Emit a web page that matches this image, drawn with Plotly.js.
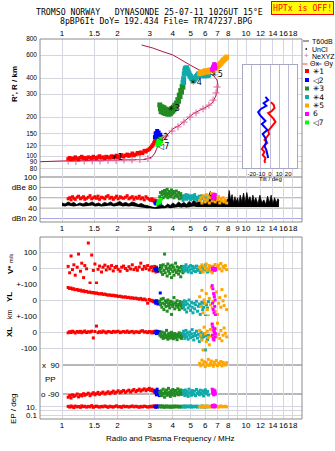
<!DOCTYPE html>
<html><head><meta charset="utf-8">
<script src="https://cdn.plot.ly/plotly-3.0.1.min.js"></script>
<style>html,body{margin:0;padding:0;background:#fff;}#chart{width:335px;height:451px;}</style>
</head><body><div id="chart"></div>
<script>
// ---------------- DATA ----------------
const topTickVals = [1,1.5,2,3,4,5,6,7,8,9,10,12,14,16,18];
const topTickText = ['1','1.5','2','3','4','5','6','7','8','','10','12','14','16','18'];
const midTickText = ['1','1.5','2','3','4','5','6','7','8','9','10','12','14','16','18'];
const rTickVals = [80,90,100,120,150,200,300,400,600,800];
const rTickText = ['80','90','100','120','150','200','300','400','600','800'];
const dbTickVals = [100,80,60,40,20];
const dbTickText = ['100','dBe 80','60','40','dBn 20'];

// group 1 (red)
const freqG1 = [1.08,1.10,1.12,1.14,1.16,1.18,1.21,1.23,1.26,1.28,1.31,1.33,1.36,1.39,1.42,1.45,1.48,1.51,1.54,1.57,1.60,1.64,1.67,1.71,1.74,1.78,1.82,1.86,1.90,1.94,1.98,2.02,2.07,2.11,2.16,2.21,2.26,2.31,2.36,2.41,2.46,2.52,2.57,2.63,2.68,2.74,2.80,2.86,2.92,2.98,3.03,3.08,3.12,3.16,3.19,3.22,3.24,3.26,3.28,3.30];
const rangeG1 = [95,97,94,96,95,98,96,94,97,99,96,97,95,98,97,96,99,97,96,98,100,97,98,96,99,98,97,100,98,99,101,98,100,102,99,101,103,100,102,105,101,103,106,104,107,105,110,108,111,113,116,119,122,126,130,134,139,144,138,148];
const ampG1 = [58,60,56,62,59,57,61,63,58,60,62,57,59,61,64,58,60,62,59,63,57,61,60,58,62,64,59,61,57,60,63,58,62,60,59,61,64,58,60,62,57,61,59,63,58,60,56,62,59,57,55,58,54,56,52,55,53,50,54,52];
const vstarG1 = [10,-30,75,-10,20,-45,5,87,-20,30,-60,15,-5,156,-94,81,-15,25,-94,-8,12,-25,5,18,-12,8,-5,15,-18,3,10,-8,-20,5,12,-3,-15,8,-6,20,-10,2,-14,6,30,-8,10,-4,15,-12,3,8,-18,-5,10,-3,-25,5,-10,-20];
const ylG1 = [78,72,75,68,70,64,66,60,62,55,58,52,54,48,50,45,47,42,44,40,38,40,35,37,33,30,32,28,30,25,27,22,24,20,18,20,15,17,12,14,10,12,8,5,10,2,6,0,-20,3,-5,-2,-8,-12,-6,-15,-10,-18,-8,-14];
const xlG1 = [-5,2,-3,5,0,-6,3,-2,4,-4,1,6,-3,2,-1,5,-37,3,37,-4,2,-2,6,0,-5,3,1,-3,4,-1,2,5,-4,0,3,-2,6,-3,1,4,-5,2,0,-3,5,8,-1,2,-4,3,0,-6,2,-3,4,-2,5,-5,0,-4];
const ppG1 = [-110,-100,-115,-95,-105,-100,-90,-108,-95,-102,-88,-98,-92,-85,-100,-90,-82,-95,-88,-80,-92,-85,-78,-90,-84,-76,-88,-80,-72,-85,-78,-70,-82,-75,-68,-80,-72,-66,-78,-70,-62,-75,-68,-60,-72,-65,-58,-70,-62,-55,-68,-60,-72,-66,-80,-75,-85,-78,-90,-82];
const epG1 = [12,8,15,10,6,14,9,11,7,16,10,13,8,12,9,18,7,11,14,10,8,12,9,15,11,7,13,10,8,12,16,9,11,7,14,10,12,8,11,15,9,13,10,7,12,9,14,11,8,10,13,9,12,16,10,8,11,14,9,12];

// group 2 (blue)
const freqG2 = [3.20,3.23,3.26,3.29,3.32,3.35,3.38,3.42];
const rangeG2 = [140,150,145,156,148,152,142,146];
const ampG2 = [50,48,52,49,51,47,50,48];
const vstarG2 = [-5,-15,0,-10,-20,-8,-12,-2];
const ylG2 = [-10,-20,-5,-15,-25,-8,-12,44];
const xlG2 = [-5,0,-10,5,-8,-3,2,-6];
const ppG2 = [-70,-80,-95,-60,-85,-75,-100,-90];
const epG2 = [12,8,15,10,9,14,11,13];

// group 3 (dark green)
const freqG3 = [3.40,3.43,3.46,3.49,3.52,3.55,3.58,3.61,3.64,3.67,3.70,3.73,3.76,3.79,3.82,3.85,3.88,3.91,3.94,3.97,4.00,4.03,4.06,4.10,4.14,4.18,4.22,4.26,4.30,4.34,4.38,4.42,4.46,4.50,4.54,4.58];
const rangeG3 = [248,232,220,240,226,216,236,222,213,230,218,211,226,214,210,222,213,228,218,232,222,238,228,246,238,256,250,272,265,295,288,320,312,345,340,372];
const ampG3 = [62,70,58,66,72,60,68,74,63,70,65,76,60,68,72,64,70,62,75,66,68,72,60,70,64,73,66,62,70,58,65,68,60,63,58,62];
const vstarG3 = [-10,15,-25,5,-40,20,-15,87,-30,10,-5,-50,25,-20,0,-35,12,-8,-60,18,-22,5,-45,-12,30,-28,8,-15,-38,2,-20,-55,10,-8,-30,-18];
const ylG3 = [-10,-30,5,-45,-20,10,-60,-25,-5,-40,-15,-70,0,-35,-20,-50,-8,-30,-90,-12,-40,-25,15,-55,-18,-35,-5,-45,-28,-60,-10,-38,-22,-50,-15,-30];
const xlG3 = [-20,-10,-30,0,-25,-40,-15,-5,-35,-20,10,-30,-45,-12,-25,-8,-38,-20,-2,-30,-15,-42,-25,-10,-35,-20,-48,-15,-28,-5,-33,-22,-40,-12,-25,-18];
const ppG3 = [-80,-95,-70,-100,-85,-60,-90,-110,-75,-88,-65,-98,-82,-55,-92,-78,-105,-70,-85,-95,-62,-88,-75,-100,-68,-90,-80,-58,-95,-72,-85,-65,-92,-78,-70,-88];
const epG3 = [10,14,8,12,16,9,11,7,13,10,15,9,12,8,11,14,10,7,12,9,13,11,8,15,10,12,9,14,11,8,10,13,9,12,11,10];

// group 4 (teal)
const freqG4 = [4.55,4.58,4.62,4.65,4.68,4.72,4.76,4.80,4.85,4.90,4.95,5.00,5.05,5.10,5.15,5.20,5.26,5.32,5.38,5.45,5.52,5.58,5.64,5.70,5.76,5.82,5.88,5.95,6.02,6.10,6.18,6.25];
const rangeG4 = [370,395,430,455,475,468,480,462,446,432,420,410,400,394,388,384,392,400,410,420,430,425,418,425,432,428,420,415,420,425,418,422];
const ampG4 = [55,60,64,58,62,66,57,61,65,59,63,56,60,64,58,62,66,57,61,55,59,63,57,60,64,58,62,56,60,54,58,62];
const vstarG4 = [-5,10,-20,5,-15,20,-10,0,-25,8,-12,15,-30,-5,10,-18,2,-22,12,-8,-15,5,-28,-3,8,-20,0,-12,18,-6,-25,-10];
const ylG4 = [-20,-40,-5,-60,-30,-10,-75,-25,-50,0,-35,-65,-15,-45,-80,-20,-55,-30,-8,-70,-40,-25,-90,-35,-15,-60,-45,-20,-100,-30,-50,-10];
const xlG4 = [-10,5,-25,-40,-15,10,-30,-5,-45,-20,0,-35,-12,15,-28,-50,-8,-22,5,-38,-15,-60,-25,-2,-42,-18,-30,-10,-112,-25,-48,-20];
const ppG4 = [-70,-90,-80,-100,-65,-85,-95,-75,-105,-60,-88,-78,-98,-68,-82,-92,-72,-100,-62,-86,-76,-95,-66,-84,-90,-70,-102,-80,-64,-88,-74,-96];
const epG4 = [9,12,15,10,8,13,11,14,9,12,10,16,8,11,13,9,12,10,14,8,11,13,10,9,12,15,10,8,11,13,9,12];

// group 5 (orange)
const freqG5 = [5.60,5.68,5.76,5.84,5.92,6.00,6.08,6.16,6.24,6.32,6.40,6.48,6.56,6.64,6.72,6.80,6.90,7.00,7.10,7.20,7.30,7.40,7.50,7.60,7.72,7.85];
const rangeG5 = [432,440,446,438,448,455,450,444,452,460,455,462,458,466,470,478,485,492,500,510,520,532,545,555,565,580];
const ampG5 = [55,60,50,64,58,52,66,56,62,50,60,68,54,58,64,52,60,56,62,50,58,54,60,52,56,50];
const vstarG5 = [5,-10,20,-25,10,-5,25,-15,0,15,-20,8,-30,12,-8,22,-12,5,18,-5,28,-18,10,0,15,-10];
const ylG5 = [20,-40,60,-80,0,-20,40,-60,-100,10,-30,80,-50,-10,30,-70,50,-90,-20,15,-45,65,-5,-35,25,-60];
const xlG5 = [10,-20,-50,-112,30,-10,-60,5,-35,-80,15,-25,40,-45,-5,20,-30,55,-15,-40,10,-55,-20,25,-8,-30];
const ppG5 = [100,85,120,95,110,80,105,90,125,88,100,115,92,82,108,96,118,86,102,94,112,84,106,98,90,104];
const epG5 = [11,9,14,8,12,10,15,9,11,13,8,12,10,14,9,11,13,10,8,12,15,9,11,10,13,9];

// group 6 (magenta)
const freqG6 = [6.55,6.58,6.61,6.64,6.67,6.70,6.73,6.76,6.79,6.82];
const rangeG6 = [462,470,478,486,494,502,512,505,490,475];
const ampG6 = [58,62,65,60,64,67,61,63,59,66];
const vstarG6 = [-5,-10,0,-8,-12,-3,-6,-15,-2,-9];
const ylG6 = [90,-20,70,-60,40,-80,20,-40,0,-95];
const xlG6 = [50,-20,30,-40,10,-50,0,20,-30,-10];
const ppG6 = [-60,-75,-85,-70,-95,-65,-80,-90,-72,-88];
const epG6 = [14,20,10,16,12,25,9,18,11,15];

// group 7 (lime)
const freqG7 = [3.30,3.33,3.36,3.39,3.42,3.45];
const rangeG7 = [122,128,132,126,136,130];
const ampG7 = [48,52,55,50,53,57];

// plasma-frequency profile (true height) and NeXYZ points
const profileFreq = [0.46,0.59,0.76,1.00,1.42,2.07,2.83,3.08,3.20,3.28,3.41,3.72,4.01,4.38,4.72,5.15,5.62,6.22,6.62,6.96,7.04,6.96,6.62,5.84,4.96,4.38,4.01,3.54,3.12,2.71];
const profileHeight = [88.4,89.9,90.4,91.6,92.4,93.2,94.0,98.3,105.5,115,133,145,162,174,190,211,226,243,261,307,353,386,422,445,504,561,602,638,681,719];
const nexyzFreq = [1.08,1.19,1.32,1.46,1.61,1.78,1.97,2.17,2.40,2.65,2.93,3.41,3.67,3.96,4.27,4.60,4.96,5.35,5.84,6.29,6.62,6.87,6.96];
const nexyzHeight = [91.6,90.8,91.6,91.6,91.6,92.4,92.4,93.2,93.2,94.0,95.7,133,143,156,168,183,200,215,231,247,270,307,341];

// noise / unclassified amplitude band
const noiseFreq = [1.00,1.04,1.08,1.12,1.16,1.20,1.25,1.30,1.35,1.40,
 1.46,1.52,1.58,1.64,1.70,1.77,1.84,1.91,1.98,2.06,
 2.14,2.22,2.31,2.40,2.50,2.60,2.70,2.80,2.90,3.00,
 3.10,3.20,3.30,3.40,3.50,3.62,3.75,3.88,4.00,4.15,
 4.30,4.45,4.60,4.75,4.90,5.05,5.20,5.40,5.60,5.80,
 6.00,6.20,6.40,6.55,6.70,6.85,7.00,7.20,7.40,7.60,
 7.80,8.00,8.10,8.25,8.40,8.55,8.70,8.85,9.00,9.15,
 9.30,9.50,9.70,9.90,10.1,10.3,10.5,10.7,10.9,11.1,
 11.3,11.6,11.9,12.2,12.5,12.8,13.1,13.4,13.7,14.0,
 14.3,14.6,14.9,15.1];
const noiseTop = [50,48,52,49,51,47,50,48,51,49,
 52,48,50,47,51,49,52,48,50,53,
 49,51,48,52,50,47,49,46,45,43,
 42,41,42,44,46,43,48,45,50,46,
 52,48,51,47,53,49,55,50,54,49,
 56,60,72,58,68,55,60,52,56,50,
 54,58,74,55,66,50,62,52,60,48,
 65,52,69,50,70,54,62,50,65,52,
 60,48,65,50,56,47,63,50,65,48,
 60,50,58,55];
const noiseLow = [44,43,45,44,43,44,45,43,44,44,
 45,43,44,43,44,44,45,43,44,45,
 43,44,43,44,43,42,42,41,40,40,
 39,39,39,40,40,40,41,40,41,41,
 42,41,42,41,42,42,43,42,42,42,
 42,43,43,42,43,42,42,42,42,42,
 42,42,42,42,42,42,42,42,42,42,
 42,42,42,42,42,42,42,42,42,42,
 42,42,42,42,42,42,42,42,42,42,
 42,42,42,42];

// tilt inset
const tiltXHeight = [272,264,255,246,240,232,223,214,205,197,188,179,170,162,153,144,135,127,118,109,100,95];
const tiltX = [1,4,5,2,-2,1,4,6,3,0,-2,-1,-4,-6,-3,-7,-9,-6,-8,-5,-6,-5];
const tiltYHeight = [287,278,269,261,252,243,234,226,217,208,199,191,179,167,156,144,132,121,109];
const tiltY = [-5,-2,-7,-4,-10,-13,-11,-8,-5,-9,-6,-3,-8,-5,-4,-6,-4,-3,-2];

const groupLabels = ['✳1','◁2','✳3','✳4','✳5','6','◁7'];
const groupColors = ['#ff0000','#0000ff','#228b22','#10aaaa','#ffa500','#ff00ff','#00ff00'];

// ---------------- LAYOUT HELPERS ----------------
const W=335,H=451;
const X=p=>p/W, Y=p=>1-p/H;
const FONT='Liberation Sans, Arial, sans-serif';
const MONO='DejaVu Sans Mono, monospace';
const GRID='#d6d6de', FRAME='#8c8c8c';
const lr=[(40-62)/184,(302-62)/184];
const rRange=[Math.log10(800)-(175-39)/129.6, Math.log10(800)];

const groups = [
 {f:freqG1,r:rangeG1,a:ampG1,v:vstarG1,yl:ylG1,xl:xlG1,pp:ppG1,ep:epG1,s:3.6},
 {f:freqG2,r:rangeG2,a:ampG2,v:vstarG2,yl:ylG2,xl:xlG2,pp:ppG2,ep:epG2,s:4},
 {f:freqG3,r:rangeG3,a:ampG3,v:vstarG3,yl:ylG3,xl:xlG3,pp:ppG3,ep:epG3,s:5},
 {f:freqG4,r:rangeG4,a:ampG4,v:vstarG4,yl:ylG4,xl:xlG4,pp:ppG4,ep:epG4,s:5},
 {f:freqG5,r:rangeG5,a:ampG5,v:vstarG5,yl:ylG5,xl:xlG5,pp:ppG5,ep:epG5,s:5},
 {f:freqG6,r:rangeG6,a:ampG6,v:vstarG6,yl:ylG6,xl:xlG6,pp:ppG6,ep:epG6,s:4},
 {f:freqG7,r:rangeG7,a:ampG7,s:4}
];

const traces=[];
// profile line + NeXYZ markers (ionogram panel)
traces.push({x:profileFreq,y:profileHeight,xaxis:'x',yaxis:'y',mode:'lines',line:{color:'#b0154a',width:1}});
traces.push({x:nexyzFreq,y:nexyzHeight,xaxis:'x',yaxis:'y',mode:'markers',marker:{symbol:'cross-thin',size:5,line:{color:'#e0609a',width:1}}});
// noise band in dB panel
traces.push({x:noiseFreq,y:noiseLow,xaxis:'x2',yaxis:'y2',mode:'lines',line:{width:0,color:'#000'},hoverinfo:'skip'});
traces.push({x:noiseFreq,y:noiseTop,xaxis:'x2',yaxis:'y2',mode:'lines',fill:'tonexty',fillcolor:'#000',line:{width:0.8,color:'#000'},hoverinfo:'skip'});

const mk=(c,s)=>({color:c,size:s,symbol:'square',line:{width:0}});
groups.forEach((g,i)=>{
  const c=groupColors[i];
  traces.push({x:g.f,y:g.r,xaxis:'x',yaxis:'y',mode:'markers',marker:mk(c,g.s)});
  traces.push({x:g.f,y:g.a,xaxis:'x2',yaxis:'y2',mode:'markers',marker:mk(c,3)});
  if(g.v){
    [['y4',g.v],['y5',g.yl],['y6',g.xl],['y7',g.pp],['y8',g.ep]].forEach(([ya,vals])=>{
      traces.push({x:g.f,y:vals,xaxis:'x4',yaxis:ya,mode:'markers',marker:mk(c,3)});
    });
  }
});
// tilt inset
traces.push({x:tiltX,y:tiltXHeight,xaxis:'x5',yaxis:'y9',mode:'lines',line:{color:'#ff0000',width:2}});
traces.push({x:tiltY,y:tiltYHeight,xaxis:'x5',yaxis:'y9',mode:'lines',line:{color:'#0000ff',width:2}});

const tf={family:FONT,size:8,color:'#000'};
const base={zeroline:false,showline:false,ticks:'',tickfont:tf,gridcolor:GRID,gridwidth:1,fixedrange:true,tickmode:'array',tickangle:0};

const layout={
  width:W,height:H,margin:{l:0,r:0,t:0,b:0,pad:0},paper_bgcolor:'#fff',plot_bgcolor:'#fff',showlegend:false,
  xaxis:{...base,domain:[X(40),X(302)],anchor:'y',side:'top',type:'log',range:lr,tickvals:topTickVals,ticktext:topTickText,ticklabelstandoff:0},
  yaxis:{...base,domain:[Y(175),Y(39)],anchor:'x',type:'log',range:rRange,tickvals:rTickVals,ticktext:rTickText,ticklabelstandoff:2,tickfont:{family:FONT,size:6.5,color:'#000'}},
  xaxis2:{...base,domain:[X(40),X(302)],anchor:'y2',side:'bottom',type:'log',range:lr,tickvals:topTickVals,ticktext:midTickText,ticklabelstandoff:0},
  yaxis2:{...base,domain:[Y(222),Y(175)],anchor:'x2',range:[13.3,103.85],tickvals:dbTickVals,ticktext:dbTickText,showgrid:false,ticklabelstandoff:2},
  xaxis4:{...base,domain:[X(40),X(302)],anchor:'y8',side:'bottom',type:'log',range:lr,tickvals:topTickVals,ticktext:topTickText,ticklabelstandoff:0},
  yaxis4:{...base,domain:[Y(284),Y(237)],anchor:'x4',range:[-100,193.75],tickvals:[100,0],ticktext:['100','0'],ticklabelstandoff:2},
  yaxis5:{...base,domain:[Y(316),Y(284)],anchor:'x4',range:[-100,100],tickvals:[100,0],ticktext:['+-100','0'],ticklabelstandoff:2},
  yaxis6:{...base,domain:[Y(356),Y(316)],anchor:'x4',range:[-150,100],tickvals:[100,0,-100],ticktext:['+-100','0','-100'],ticklabelstandoff:2},
  yaxis7:{...base,domain:[Y(400),Y(356)],anchor:'x4',range:[-127.2,145.9],showgrid:false,showticklabels:false},
  yaxis8:{...base,domain:[Y(419),Y(400)],anchor:'x4',type:'log',range:[-1.964,2.614],tickvals:[10,1,0.1],ticktext:['10.','','0.1'],ticklabelstandoff:2},
  xaxis5:{...base,domain:[X(242.7),X(297.3)],anchor:'y9',range:[-30,30],tickvals:[-20,-10,0,10,20],ticktext:['-20','-10','0','10','20'],
          gridcolor:'#bcbcd4',showline:true,mirror:true,linecolor:'#a8a8c4',tickfont:{family:FONT,size:6,color:'#000'},ticklabelstandoff:0},
  yaxis9:{...base,domain:[Y(168),Y(65)],anchor:'x5',range:[80,380],showgrid:false,showticklabels:false,showline:true,mirror:true,linecolor:'#a8a8c4'},
  shapes:[],annotations:[]
};
const S=layout.shapes, A=layout.annotations;
// inset background (occludes main grid)
S.push({type:'rect',xref:'x5',yref:'y9',x0:-30,x1:30,y0:80,y1:380,fillcolor:'#fff',line:{width:0},layer:'below'});
// dB panel lines
[[100,'#7a7a7a'],[80,'#a8a8a8'],[60,'#a8a8a8'],[40,'#a8a8a8'],[20,'#a8a8e8']].forEach(([v,c])=>{
  S.push({type:'line',xref:'paper',yref:'y2',x0:X(40),x1:X(302),y0:v,y1:v,line:{color:c,width:1},layer:'below'});
});
// PP lines
[90,-90].forEach(v=>S.push({type:'line',xref:'paper',yref:'y7',x0:X(63),x1:X(302),y0:v,y1:v,line:{color:'#707070',width:1},layer:'below'}));
// frames
S.push({type:'rect',xref:'paper',yref:'paper',x0:X(40),x1:X(302),y0:Y(222),y1:Y(39),line:{color:FRAME,width:1},fillcolor:'rgba(0,0,0,0)',layer:'above'});
S.push({type:'rect',xref:'paper',yref:'paper',x0:X(40),x1:X(302),y0:Y(419),y1:Y(237),line:{color:FRAME,width:1},fillcolor:'rgba(0,0,0,0)',layer:'above'});

const ann=(o)=>A.push(Object.assign({xref:'paper',yref:'paper',showarrow:false,font:{family:FONT,size:8,color:'#000'}},o));
const lf={family:FONT,size:7,color:'#000'};
// titles
ann({x:X(149),y:Y(12),text:'TROMSO NORWAY   DYNASONDE 25-07-11 1026UT 15°E',font:{family:MONO,size:8.2,color:'#000'},xanchor:'center',yanchor:'middle'});
ann({x:X(156),y:Y(21),text:'8pBP6It DoY= 192.434 File= TR747237.BPG',font:{family:MONO,size:8.2,color:'#000'},xanchor:'center',yanchor:'middle'});
ann({x:X(302),y:Y(8.5),text:'HPTx is OFF!',font:{family:MONO,size:8.2,color:'#ff0000'},bgcolor:'#ffff00',bordercolor:'#ff0000',borderwidth:1,borderpad:1,xanchor:'center',yanchor:'middle'});
// axis titles
ann({x:X(14),y:Y(84),text:"<b>R', R / km</b>",textangle:-90,xanchor:'center',yanchor:'middle'});
ann({x:X(10),y:Y(264),text:'<b>V*</b> <span style="font-size:6px">m/s</span>',textangle:-90,xanchor:'center',yanchor:'middle'});
ann({x:X(9),y:Y(297),text:'<b>YL</b>',textangle:-90,xanchor:'center',yanchor:'middle'});
ann({x:X(9),y:Y(314),text:'km',textangle:-90,xanchor:'center',yanchor:'middle',font:{family:FONT,size:7,color:'#000'}});
ann({x:X(9),y:Y(332),text:'<b>XL</b>',textangle:-90,xanchor:'center',yanchor:'middle'});
ann({x:X(13),y:Y(409),text:'EP / deg',textangle:-90,xanchor:'center',yanchor:'middle'});
ann({x:X(62),y:Y(365),text:'x  90',xanchor:'right',yanchor:'middle'});
ann({x:X(43),y:Y(379),text:'PP',xanchor:'left',yanchor:'middle'});
ann({x:X(62),y:Y(394),text:'o -90',xanchor:'right',yanchor:'middle'});
ann({x:X(170),y:Y(438),text:'Radio and Plasma Frequency / MHz',xanchor:'center',yanchor:'middle'});
ann({x:X(270),y:Y(179),text:'Tilt / deg',xanchor:'center',yanchor:'middle',font:{family:FONT,size:6,color:'#000'}});
// legend
S.push({type:'line',xref:'paper',yref:'paper',x0:X(303),x1:X(309),y0:Y(41),y1:Y(41),line:{color:'#a0a0a0',width:2}});
ann({x:X(309.5),y:Y(41),text:'T60dB',xanchor:'left',yanchor:'middle',font:lf});
S.push({type:'rect',xref:'paper',yref:'paper',x0:X(305.5),x1:X(307),y0:Y(49.8),y1:Y(48.3),fillcolor:'#000',line:{width:0}});
ann({x:X(309.5),y:Y(49),text:'UnCl',xanchor:'left',yanchor:'middle',font:lf});
ann({x:X(306),y:Y(56),text:'+',xanchor:'center',yanchor:'middle',font:{family:FONT,size:8,color:'#e0609a'}});
ann({x:X(309.5),y:Y(56.5),text:'NeXYZ',xanchor:'left',yanchor:'middle',font:lf});
S.push({type:'line',xref:'paper',yref:'paper',x0:X(302.5),x1:X(307.5),y0:Y(64),y1:Y(64),line:{color:'#ff4040',width:1}});
ann({x:X(307.5),y:Y(64),text:'Θx',xanchor:'left',yanchor:'middle',font:lf});
S.push({type:'line',xref:'paper',yref:'paper',x0:X(316.5),x1:X(321.5),y0:Y(64),y1:Y(64),line:{color:'#4040ff',width:1}});
ann({x:X(321.5),y:Y(64),text:'Θy',xanchor:'left',yanchor:'middle',font:lf});
const legY=[71,80,88.5,97,105.5,114,122.5];
groupLabels.forEach((t,i)=>{
  S.push({type:'rect',xref:'paper',yref:'paper',x0:X(305),x1:X(309),y0:Y(legY[i]+2),y1:Y(legY[i]-2),fillcolor:groupColors[i],line:{width:0}});
  ann({x:X(311),y:Y(legY[i]),text:t,xanchor:'left',yanchor:'middle',font:{family:'DejaVu Sans, sans-serif',size:7.5,color:'#000'}});
});
// echo group labels on the ionogram
const lab=[['✳1',2.0,97],['◁2',3.5,140],['◁7',3.56,118],['✳3',4.05,232],['✳4',5.35,372],['✳5',6.95,425]];
lab.forEach(([t,f,r])=>A.push({xref:'x',yref:'y',x:Math.log10(f),y:Math.log10(r),text:t,showarrow:false,xanchor:'center',yanchor:'middle',font:{family:'DejaVu Sans, sans-serif',size:8,color:'#000'}}));

Plotly.newPlot('chart',traces,layout,{staticPlot:true,displayModeBar:false});
</script></body></html>
